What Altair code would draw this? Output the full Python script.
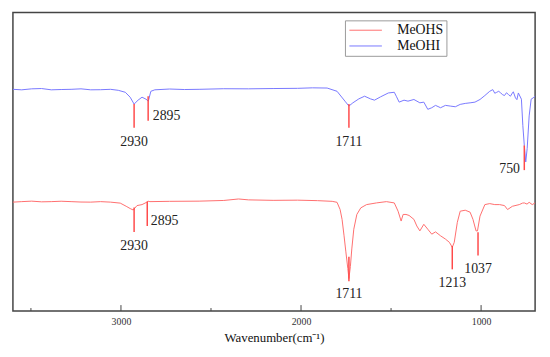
import altair as alt
import pandas as pd

# ---- spectra (wavenumber, relative signal in arbitrary units) ----
mehi_wn = [3600, 3551, 3496, 3441, 3387, 3332, 3277, 3222, 3168, 3113, 3058, 3015, 2976, 2949,
           2927, 2905, 2883, 2861, 2848, 2834, 2812, 2730, 2648, 2566, 2429, 2292, 2155, 2019,
           1937, 1855, 1800, 1756, 1734, 1712, 1679, 1647, 1614, 1592, 1559, 1515, 1482, 1471,
           1455, 1428, 1406, 1373, 1340, 1318, 1296, 1274, 1253, 1225, 1198, 1171, 1143, 1116,
           1088, 1061, 1034, 1006, 979, 952, 935, 924, 913, 902, 891, 880, 870, 859, 848, 837,
           826, 821, 809, 801, 793, 776, 768, 760, 752, 744, 733, 722, 711, 700]
mehi_val = [225, 224.5, 225.5, 225.8, 224.5, 224.8, 225, 225.5, 224.5, 224.6, 225, 224, 222, 217,
            210, 214, 217, 215, 213, 223, 224.5, 225.3, 224.8, 225, 225.6, 225.5, 225.8, 226,
            226.5, 226.3, 223, 213, 208, 211.3, 215.3, 218, 215.3, 214, 217.3, 221.3, 222, 218,
            212, 214, 213, 214.7, 211.3, 212, 204.7, 206.3, 208.7, 206.3, 208.7, 208, 207.3, 209.7,
            210.7, 211.3, 212, 214.7, 218.7, 223, 224.7, 221, 222, 223, 221.3, 219.5, 218.7, 221.5,
            219.7, 218, 221.3, 222.5, 216.3, 214.5, 221.3, 215, 188, 168, 151.3, 165, 198, 215,
            216.3, 218]

mehs_wn = [3600, 3551, 3496, 3441, 3387, 3332, 3277, 3222, 3168, 3113, 3058, 3004, 2971, 2949,
           2932, 2911, 2883, 2861, 2850, 2839, 2730, 2566, 2429, 2347, 2292, 2155, 2019, 1909,
           1827, 1800, 1783, 1772, 1761, 1751, 1740, 1734, 1726, 1718, 1707, 1690, 1668, 1636,
           1581, 1526, 1482, 1461, 1444, 1433, 1417, 1400, 1373, 1357, 1340, 1318, 1296, 1274,
           1253, 1225, 1198, 1176, 1160, 1149, 1132, 1116, 1088, 1061, 1045, 1028, 1020, 1006,
           979, 952, 924, 897, 870, 853, 826, 788, 770, 760, 745, 733, 716, 700]
mehs_val = [110.5, 111, 111.5, 110.8, 111, 111.4, 111, 110.6, 110.5, 111, 110.5, 109.5, 106.3, 104,
            102.5, 107, 108, 110, 111.5, 111, 111.3, 111.5, 112.2, 113.7, 112.8, 112.3, 112.5, 112,
            111.3, 110.3, 103, 93, 76.3, 60, 43, 33, 45, 63, 83, 98, 104.7, 108,
            109.7, 111, 109.7, 101.3, 91.3, 98, 98, 97, 93, 86.3, 81.3, 88, 83, 78,
            80.3, 76.3, 73, 69.7, 64.7, 69.7, 90, 101.3, 102.3, 100.3, 93, 81.3, 81.3, 96.3,
            108, 109, 108, 108, 107, 103, 106.3, 108, 109.5, 109.7, 108.5, 110.3, 108, 109.7]

series_names = ["MeOHS", "MeOHI"]
series_colors = ["#ff6e6e", "#7878ff"]

# ---- peak annotations ----
peak_label = ["2930", "2895", "1711", "750", "2930", "2895", "1711", "1213", "1037"]
peak_wn = [2927, 2849, 1734, 760, 2927, 2854, 1734, 1160, 1017]
peak_top = [210, 218, 210, 168, 105, 111, 55, 66, 80]
peak_bottom = [186, 193, 186, 143, 80.3, 86.3, 30.3, 42.3, 56.3]
label_wn = [2927, 2823, 1734, 784, 2927, 2834, 1734, 1160, 1017]
label_val = [171.3, 198, 171.3, 144, 66.3, 91.3, 17, 28, 43]
label_align = ["center", "left", "center", "right", "center", "left", "center", "center", "center"]

major_ticks = [3000, 2000, 1000]
minor_ticks = [3500, 2500, 1500]

spec = pd.DataFrame({
    "wn": mehs_wn + mehi_wn,
    "val": mehs_val + mehi_val,
    "series": ["MeOHS"] * len(mehs_wn) + ["MeOHI"] * len(mehi_wn),
})
peaks = pd.DataFrame({"wn": peak_wn, "top": peak_top, "bottom": peak_bottom})
labels = pd.DataFrame({"wn": label_wn, "val": label_val, "label": peak_label, "align": label_align})
majors = pd.DataFrame({"wn": major_ticks})
minors = pd.DataFrame({"wn": minor_ticks})

SERIF = "Liberation Serif"
W, H = 530, 303

xscale = alt.Scale(domain=[700, 3600], reverse=True, nice=False, zero=False)
xaxis = alt.Axis(values=major_ticks, format="d", title="Wavenumber(cm⁻¹)",
                 tickSize=0, domain=False, grid=False,
                 labelFont=SERIF, labelFontSize=10, labelColor="#333", labelPadding=6,
                 titleFont=SERIF, titleFontSize=13, titleFontWeight="normal",
                 titleColor="#111", titlePadding=5)
X = alt.X("wn:Q", scale=xscale, axis=xaxis)
yscale = alt.Scale(domain=[0, 303], nice=False, zero=False)

lines = alt.Chart(spec).mark_line(strokeWidth=1, interpolate="linear").encode(
    x=X,
    y=alt.Y("val:Q", scale=yscale, axis=None),
    color=alt.Color("series:N",
                    scale=alt.Scale(domain=series_names, range=series_colors),
                    sort=series_names,
                    legend=alt.Legend(title=None, orient="none", legendX=337, legendY=8,
                                      symbolType="M-3,0H3", symbolSize=121, symbolOffset=11,
                                      symbolStrokeWidth=1, labelOffset=25,
                                      labelFont=SERIF, labelFontSize=14, labelColor="#111",
                                      rowPadding=2, padding=3, strokeColor="#999",
                                      fillColor="white")),
    detail="series:N",
    order="wn:Q",
)

rules = alt.Chart(peaks).mark_rule(color="#ff4a4a", strokeWidth=1.5).encode(
    x=X,
    y=alt.Y("top:Q", scale=yscale, axis=None),
    y2="bottom:Q",
)

def text_layer(al):
    return alt.Chart(labels).transform_filter(alt.datum.align == al).mark_text(
        font=SERIF, fontSize=14, color="#222", align=al, baseline="middle"
    ).encode(
        x=X,
        y=alt.Y("val:Q", scale=yscale, axis=None),
        text="label:N",
    )

major_rules = alt.Chart(majors).mark_rule(color="#444", strokeWidth=1).encode(
    x=X, y=alt.value(H), y2=alt.value(H - 6))
minor_rules = alt.Chart(minors).mark_rule(color="#444", strokeWidth=1).encode(
    x=X, y=alt.value(H), y2=alt.value(H - 3))

chart = alt.layer(
    lines, rules, text_layer("center"), text_layer("left"), text_layer("right"),
    major_rules, minor_rules,
).properties(
    width=W, height=H, background="white",
    padding={"left": 3, "top": 2, "right": 5, "bottom": 0},
).configure_view(
    stroke="#444", strokeWidth=1.5
).configure_axisX(
    tickSize=0, domain=False, grid=False,
    labelFont=SERIF, labelFontSize=10, labelColor="#333", labelPadding=6,
    titleFont=SERIF, titleFontSize=13, titleFontWeight="normal",
    titleColor="#111", titlePadding=5,
)

chart.save("out.html", embed_options={"renderer": "svg", "actions": False})
